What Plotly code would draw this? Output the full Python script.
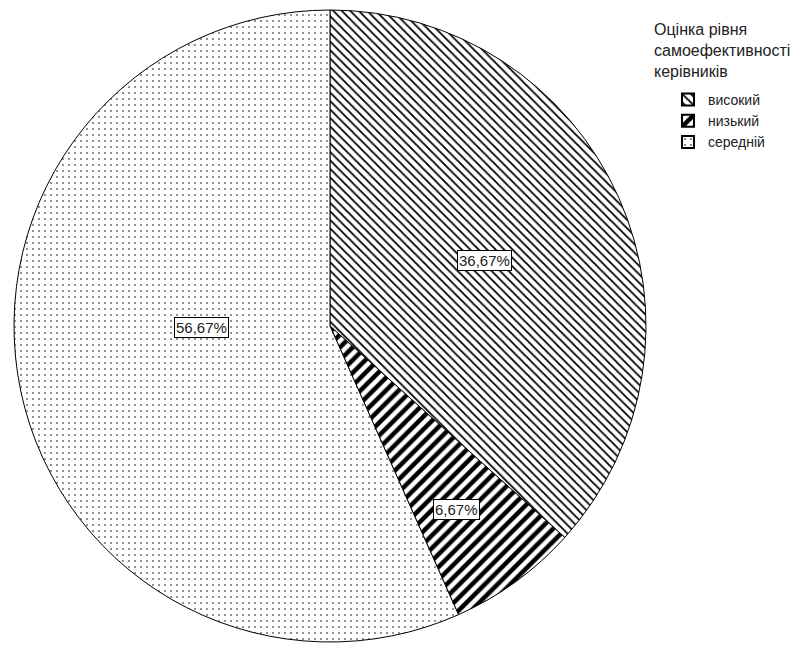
import plotly.graph_objects as go

# Self-efficacy level categories and their shares (%)
levels = ["високий", "низький", "середній"]
shares = [36.67, 6.67, 56.67]
label_texts = ["36,67%", "6,67%", "56,67%"]

# Fill patterns per slice
pattern_shapes = ["\\", "/", "."]
pattern_sizes = [6, 9, 6]
pattern_solidity = [0.3, 0.5, 0.1]
pattern_fg = ["black", "black", "#777"]

W, H = 809, 646
cx, cy, R = 330, 326, 316  # pie centre and radius in px

fig = go.Figure()
fig.add_trace(go.Pie(
    labels=levels,
    values=shares,
    sort=False,
    direction="clockwise",
    rotation=0,
    textinfo="none",
    hoverinfo="label+percent",
    marker=dict(
        colors=["white"] * 3,
        line=dict(color="black", width=1),
        pattern=dict(
            shape=pattern_shapes,
            size=pattern_sizes,
            solidity=pattern_solidity,
            fgcolor=pattern_fg,
            bgcolor="white",
        ),
    ),
    domain=dict(x=[(cx - R) / W, (cx + R) / W],
                y=[(H - cy - R) / H, (H - cy + R) / H]),
))

# Boxed value labels (centre positions in px)
label_pos = [(484, 260), (456, 509), (201, 327)]
annotations = []
for txt, (px, py) in zip(label_texts, label_pos):
    annotations.append(dict(
        x=px / W, y=1 - py / H, xref="paper", yref="paper",
        xanchor="center", yanchor="middle",
        text=txt, showarrow=False,
        font=dict(family="Liberation Sans, Arial", size=15, color="#222"),
        bgcolor="white", bordercolor="black", borderwidth=1, borderpad=1,
    ))

# Legend heading
annotations.append(dict(
    x=652 / W, y=1 - 19 / H, xref="paper", yref="paper",
    xanchor="left", yanchor="top", align="left",
    text="Оцінка рівня<br>самоефективності<br>керівників",
    showarrow=False,
    font=dict(family="Liberation Sans, Arial", size=16, color="#222"),
))

fig.update_layout(
    width=W, height=H,
    margin=dict(l=0, r=0, t=0, b=0),
    paper_bgcolor="white",
    plot_bgcolor="white",
    showlegend=True,
    legend=dict(
        x=668 / W, y=1 - 84 / H, xanchor="left", yanchor="top",
        font=dict(family="Liberation Sans, Arial", size=14, color="#222"),
        tracegroupgap=0, itemsizing="constant",
        bgcolor="rgba(0,0,0,0)",
    ),
    annotations=annotations,
)

fig.write_html("out.html")
